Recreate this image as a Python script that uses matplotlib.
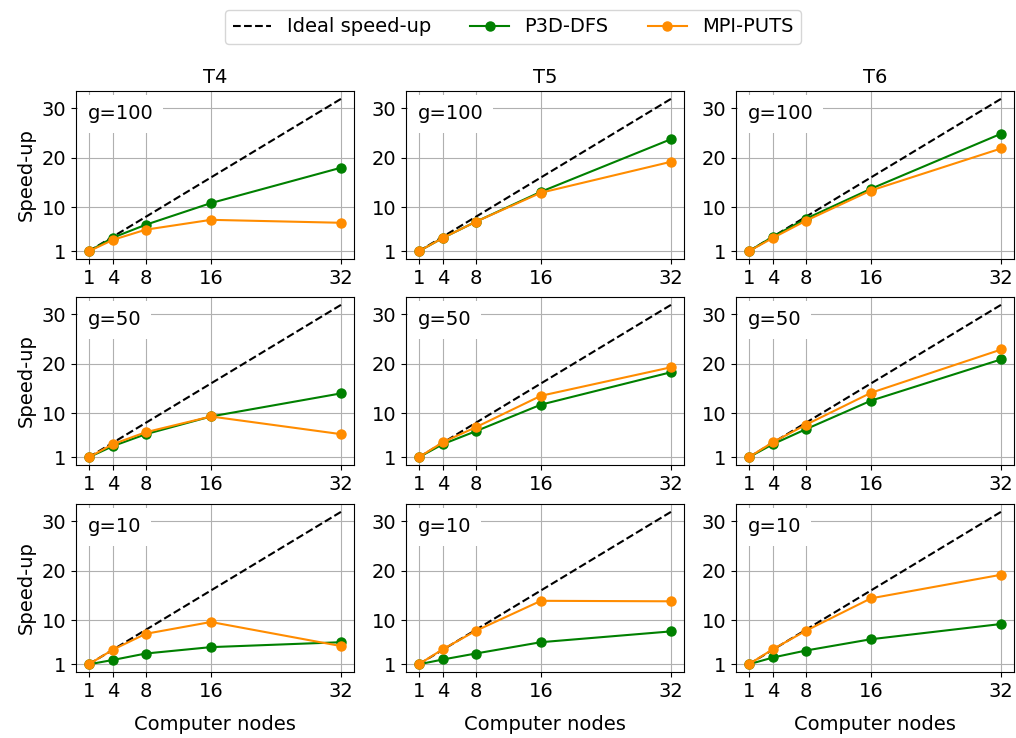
import matplotlib
matplotlib.use("Agg")
import matplotlib.pyplot as plt

nodes = [1, 4, 8, 16, 32]
ideal = [1, 4, 8, 16, 32]
columns = ["T4", "T5", "T6"]
rows = ["g=100", "g=50", "g=10"]

# P3D-DFS values [row][col]
p3d_g100_T4 = [1, 3.8, 6.4, 10.8, 18.0]
p3d_g100_T5 = [1, 3.75, 7.0, 13.1, 23.8]
p3d_g100_T6 = [1, 4.0, 7.6, 13.7, 24.9]
p3d_g50_T4 = [1, 3.3, 5.7, 9.3, 14.0]
p3d_g50_T5 = [1, 3.7, 6.3, 11.7, 18.3]
p3d_g50_T6 = [1, 3.7, 6.7, 12.5, 20.9]
p3d_g10_T4 = [1, 1.9, 3.2, 4.5, 5.5]
p3d_g10_T5 = [1, 2.0, 3.2, 5.5, 7.7]
p3d_g10_T6 = [1, 2.4, 3.8, 6.1, 9.2]

# MPI-PUTS values
mpi_g100_T4 = [1, 3.35, 5.4, 7.4, 6.8]
mpi_g100_T5 = [1, 3.75, 7.0, 12.9, 19.2]
mpi_g100_T6 = [1, 3.75, 7.2, 13.35, 21.9]
mpi_g50_T4 = [1, 3.7, 6.1, 9.3, 5.7]
mpi_g50_T5 = [1, 4.1, 7.1, 13.5, 19.3]
mpi_g50_T6 = [1, 4.1, 7.6, 14.1, 22.9]
mpi_g10_T4 = [1, 4.0, 7.2, 9.6, 4.7]
mpi_g10_T5 = [1, 4.1, 7.8, 13.9, 13.8]
mpi_g10_T6 = [1, 4.1, 7.8, 14.4, 19.2]

p3d = [[p3d_g100_T4, p3d_g100_T5, p3d_g100_T6],
       [p3d_g50_T4, p3d_g50_T5, p3d_g50_T6],
       [p3d_g10_T4, p3d_g10_T5, p3d_g10_T6]]
mpi = [[mpi_g100_T4, mpi_g100_T5, mpi_g100_T6],
       [mpi_g50_T4, mpi_g50_T5, mpi_g50_T6],
       [mpi_g10_T4, mpi_g10_T5, mpi_g10_T6]]

yticks = [1, 10, 20, 30]

W, H = 1016, 738
fig = plt.figure(figsize=(W / 100, H / 100), dpi=100)

lefts = [76, 406, 736]
tops = [91, 297, 504]
aw, ah = 278, 168
FS = 14

handles = None
for r in range(3):
    for c in range(3):
        ax = fig.add_axes([lefts[c] / W, 1 - (tops[r] + ah) / H, aw / W, ah / H])
        ax.grid(True, color="#b0b0b0", linewidth=0.8, zorder=0)
        ax.set_axisbelow(True)
        h1, = ax.plot(nodes, ideal, "k--", linewidth=1.5, label="Ideal speed-up")
        h2, = ax.plot(nodes, p3d[r][c], "-o", color="green", linewidth=1.5,
                      markersize=6.5, label="P3D-DFS")
        h3, = ax.plot(nodes, mpi[r][c], "-o", color="darkorange", linewidth=1.5,
                      markersize=6.5, label="MPI-PUTS")
        handles = [h1, h2, h3]
        ax.set_xticks(nodes)
        ax.set_yticks(yticks)
        ax.tick_params(labelsize=FS)
        ax.text(0.043, 0.92, rows[r], transform=ax.transAxes, fontsize=FS,
                va="top", ha="left",
                bbox=dict(boxstyle="square,pad=0.5", facecolor="white",
                          edgecolor="none"), zorder=5)
        if r == 0:
            ax.set_title(columns[c], fontsize=FS)
        if c == 0:
            ax.set_ylabel("Speed-up", fontsize=FS)
        if r == 2:
            ax.set_xlabel("Computer nodes", fontsize=FS, labelpad=10)

fig.legend(handles, [h.get_label() for h in handles], loc="upper center",
           bbox_to_anchor=(0.505, 1.0), ncol=3, fontsize=FS, frameon=True,
           columnspacing=2.0)

fig.savefig("out.png", dpi=100)
